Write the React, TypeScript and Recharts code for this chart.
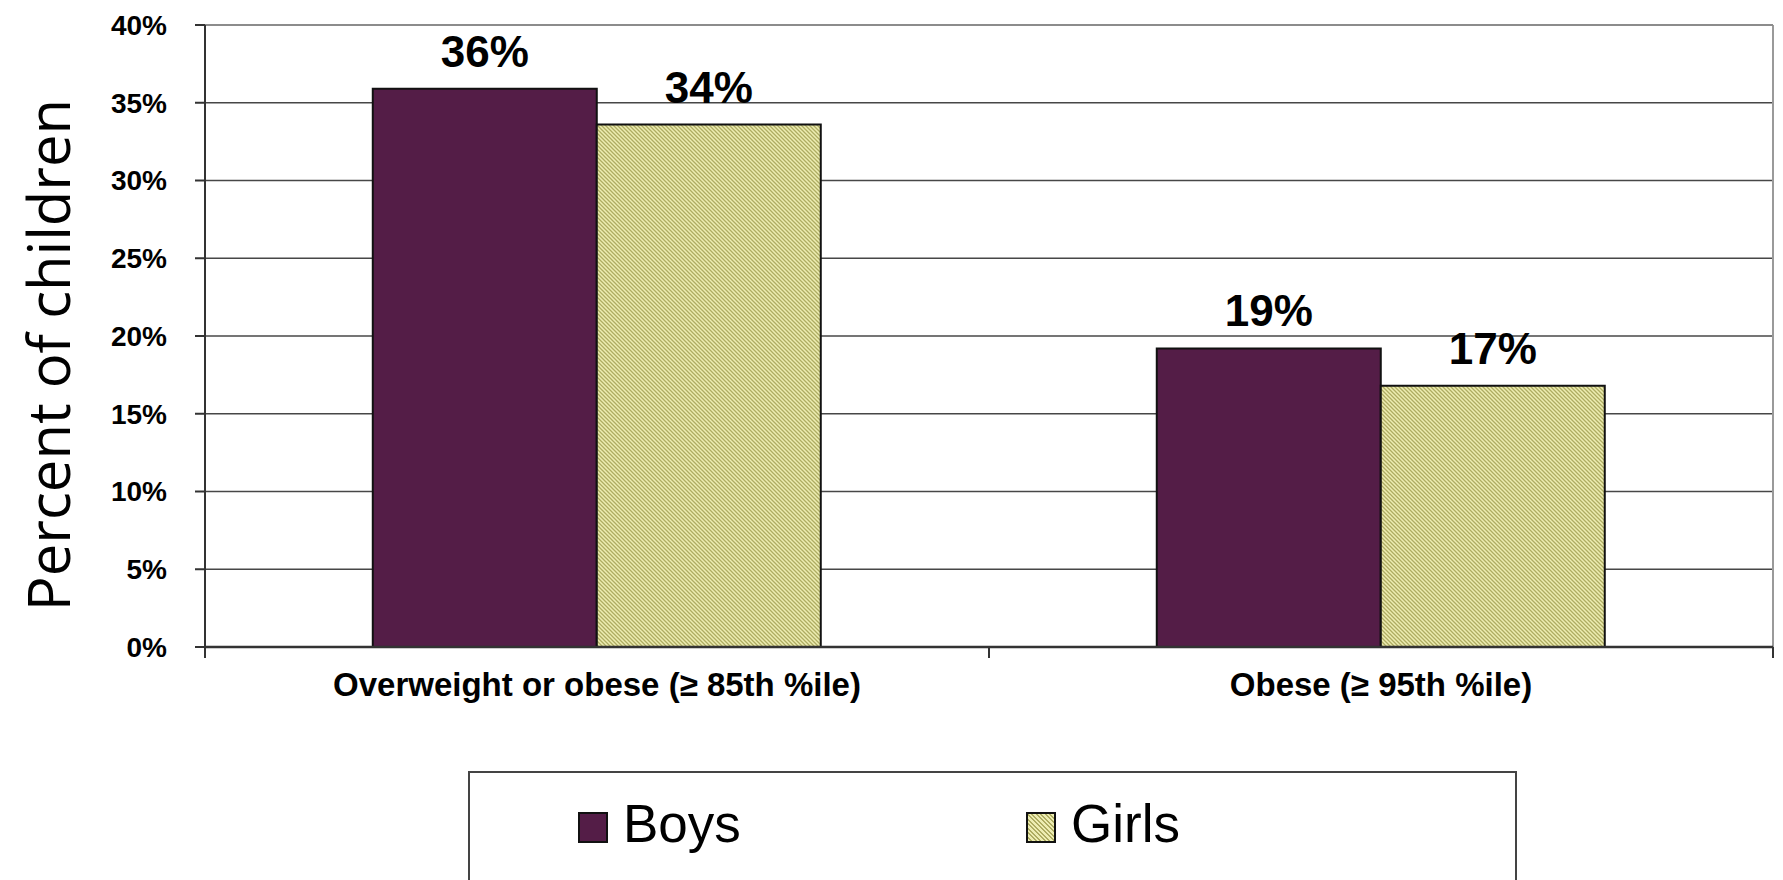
import {
  BarChart,
  Bar,
  XAxis,
  YAxis,
  CartesianGrid,
  LabelList,
  Legend,
  ReferenceLine,
} from "recharts"

const categories = ["Overweight or obese (≥ 85th %ile)", "Obese (≥ 95th %ile)"]
const boys = [35.9, 19.2]
const girls = [33.6, 16.8]
const yTicks = [0, 5, 10, 15, 20, 25, 30, 35, 40]

const data = categories.map((name, i) => ({ name, boys: boys[i], girls: girls[i] }))

const W = 1783
const H = 880
const MARGIN = { top: 25, right: 10, left: 0, bottom: 173 }
const Y_AXIS_W = 205
const X_AXIS_H = 60
const PLOT_RIGHT = W - MARGIN.right
const PLOT_BOTTOM = H - MARGIN.bottom - X_AXIS_H
const BAND = (PLOT_RIGHT - Y_AXIS_W) / categories.length

const FONT = '"Liberation Sans", Arial, sans-serif'
const BOYS_COLOR = "#541d47"
const HATCH_BG = "#ededb2"
const HATCH_LINE = "#aeac62"

// category label plus the small ticks at the band edges
function CategoryTick(props: any) {
  const { x, payload, index } = props
  const left = x - BAND / 2
  const right = x + BAND / 2
  return (
    <g>
      <line x1={left} x2={left} y1={PLOT_BOTTOM} y2={PLOT_BOTTOM + 11} stroke="#333" strokeWidth={2} />
      {index === categories.length - 1 && (
        <line x1={right} x2={right} y1={PLOT_BOTTOM} y2={PLOT_BOTTOM + 11} stroke="#333" strokeWidth={2} />
      )}
      <text
        x={x}
        y={PLOT_BOTTOM + 26}
        dy="0.71em"
        textAnchor="middle"
        fontSize={33}
        fontWeight="bold"
        fontFamily={FONT}
        fill="#000"
      >
        {payload.value}
      </text>
    </g>
  )
}

function YTitle() {
  return (
    <text
      x={70}
      y={355}
      transform="rotate(-90 70 355)"
      textAnchor="middle"
      fontSize={58}
      fontFamily='"Open Sans", "Noto Sans", sans-serif'
      fill="#000"
    >
      Percent of children
    </text>
  )
}

const swatchStyle = (key: string) =>
  key === "girls"
    ? {
        background: `repeating-linear-gradient(45deg, ${HATCH_BG} 0px, ${HATCH_BG} 1.8px, ${HATCH_LINE} 1.8px, ${HATCH_LINE} 3.2px)`,
      }
    : { background: BOYS_COLOR }

const LEGEND_X = [108, 556]

function renderLegend(props: any) {
  const items = props.payload || []
  return (
    <div style={{ position: "relative", width: "100%", height: "100%" }}>
      {items.map((entry: any, i: number) => (
        <div
          key={entry.value}
          style={{ position: "absolute", left: LEGEND_X[i], top: 24, display: "flex", alignItems: "center", height: 53 }}
        >
          <span
            style={{
              display: "inline-block",
              width: 30,
              height: 31,
              marginTop: 7,
              border: "2px solid #111",
              boxSizing: "border-box",
              ...swatchStyle(entry.dataKey),
            }}
          />
          <span style={{ marginLeft: 15, fontSize: 53, lineHeight: 1, fontFamily: FONT, color: "#000" }}>
            {entry.value}
          </span>
        </div>
      ))}
    </div>
  )
}

export default function App() {
  return (
    <div
      style={{
        position: "absolute",
        left: 0,
        top: 0,
        width: W,
        height: H,
        overflow: "hidden",
        background: "#fff",
        fontFamily: FONT,
      }}
    >
      <BarChart width={W} height={H} data={data} margin={MARGIN} barCategoryGap="21.4%" barGap={0}>
        <defs>
          <pattern id="girlsHatch" patternUnits="userSpaceOnUse" width={4} height={4}>
            <rect width={4} height={4} fill={HATCH_BG} />
            <path d="M-1,-1 L5,5 M3,-1 L5,1 M-1,3 L1,5" stroke={HATCH_LINE} strokeWidth={1.3} />
          </pattern>
        </defs>
        <CartesianGrid vertical={false} stroke="#474747" strokeWidth={1.6} />
        <CartesianGrid horizontal={false} verticalPoints={[PLOT_RIGHT]} stroke="#9a9a9a" strokeWidth={2} />
        <ReferenceLine y={40} stroke="#8c8c8c" strokeWidth={2} />
        <XAxis
          dataKey="name"
          height={X_AXIS_H}
          axisLine={{ stroke: "#333", strokeWidth: 2.5 }}
          tickLine={false}
          interval={0}
          tick={(p: any) => <CategoryTick {...p} />}
        />
        <YAxis
          width={Y_AXIS_W}
          domain={[0, 40]}
          ticks={yTicks}
          interval={0}
          tickFormatter={(v: number) => `${v}%`}
          tickSize={10}
          tickMargin={28}
          axisLine={{ stroke: "#333", strokeWidth: 2 }}
          tickLine={{ stroke: "#333", strokeWidth: 2 }}
          tick={{ fill: "#000", fontSize: 28, fontWeight: "bold", fontFamily: FONT }}
          label={<YTitle />}
        />
        <Legend
          layout="horizontal"
          verticalAlign="middle"
          align="center"
          content={renderLegend}
          wrapperStyle={{
            left: 468,
            top: 771,
            width: 1049,
            height: 130,
            border: "2px solid #444",
            boxSizing: "border-box",
            background: "#fff",
          }}
        />
        <Bar dataKey="boys" name="Boys" fill={BOYS_COLOR} stroke="#111" strokeWidth={2} isAnimationActive={false}>
          <LabelList
            dataKey="boys"
            position="top"
            offset={22}
            formatter={(v: any) => `${Math.round(Number(v))}%`}
            fill="#000"
            fontSize={44}
            fontWeight="bold"
            fontFamily={FONT}
          />
        </Bar>
        <Bar dataKey="girls" name="Girls" fill="url(#girlsHatch)" stroke="#111" strokeWidth={2} isAnimationActive={false}>
          <LabelList
            dataKey="girls"
            position="top"
            offset={22}
            formatter={(v: any) => `${Math.round(Number(v))}%`}
            fill="#000"
            fontSize={44}
            fontWeight="bold"
            fontFamily={FONT}
          />
        </Bar>
      </BarChart>
    </div>
  )
}
